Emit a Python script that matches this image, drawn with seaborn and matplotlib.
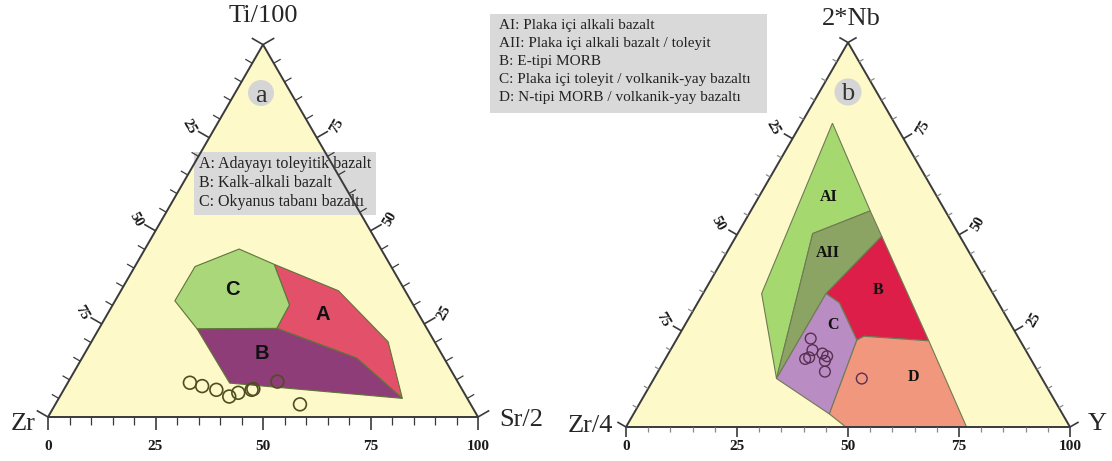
import numpy as np
import seaborn as sns
import matplotlib.pyplot as plt
import matplotlib.transforms as mtransforms
from matplotlib.patches import Polygon, Circle, Rectangle

# ---------------- diagram a : Ti/100 - Zr - Sr/2, rows = (Zr, Ti, Sr) % ----------------
a_field_A = [(26.9, 41.0, 32.1), (15.5, 33.9, 50.6), (10.8, 20.2, 69.0), (15.1, 5.0, 79.9),
             (20.3, 15.8, 63.9), (34.9, 23.8, 41.3), (28.8, 30.1, 41.1)]
a_field_B = [(53.5, 23.7, 22.8), (34.9, 23.8, 41.3), (20.3, 15.8, 63.9), (15.1, 5.0, 79.9),
             (53.2, 9.1, 37.7)]
a_field_C = [(33.0, 45.1, 21.9), (26.9, 41.0, 32.1), (28.8, 30.1, 41.1), (34.9, 23.8, 41.3),
             (53.5, 23.7, 22.8), (54.9, 31.2, 13.9), (45.6, 40.4, 14.0)]
a_field_names = ["A", "B", "C"]
a_name_pos = [(22.3, 27.4, 50.3), (41.8, 17.1, 41.1), (40.0, 34.3, 25.7)]
a_samples = [(62.4, 9.2, 28.4), (60.0, 8.3, 31.7), (57.2, 7.3, 35.5), (55.1, 5.5, 39.4),
             (52.5, 6.5, 41.0), (49.0, 7.3, 43.7), (48.5, 7.5, 44.0), (41.9, 9.5, 48.6),
             (39.7, 3.4, 56.9)]
a_corners = ["Zr", "Ti/100", "Sr/2"]
a_legend = ["A: Adayayı toleyitik bazalt", "B: Kalk-alkali bazalt", "C: Okyanus tabanı bazaltı"]

# ---------------- diagram b : 2*Nb - Zr/4 - Y, rows = (Zr/4, 2Nb, Y) % ----------------
b_field_AI = [(14.0, 79.0, 7.0), (16.9, 56.2, 26.9), (32.8, 50.3, 16.9), (59.8, 12.6, 27.6),
              (52.1, 34.7, 13.2)]
b_field_AII = [(16.9, 56.2, 26.9), (17.6, 49.6, 32.8), (37.6, 34.7, 27.7), (59.8, 12.6, 27.6),
               (32.8, 50.3, 16.9)]
b_field_B = [(17.6, 49.6, 32.8), (20.6, 22.4, 57.0), (34.6, 23.6, 41.8), (36.7, 22.6, 40.7),
             (35.8, 32.3, 31.9), (37.6, 34.7, 27.7)]
b_field_C = [(37.6, 34.7, 27.7), (35.8, 32.3, 31.9), (36.7, 22.6, 40.7), (52.5, 3.4, 44.1),
             (59.8, 12.6, 27.6)]
b_field_D = [(36.7, 22.6, 40.7), (34.6, 23.6, 41.8), (20.6, 22.4, 57.0), (23.3, 0.0, 76.7),
             (50.5, 0.0, 49.5), (52.5, 3.4, 44.1)]
b_field_names = ["AI", "AII", "B", "C", "D"]
b_name_pos = [(24.6, 59.7, 15.7), (32.0, 45.3, 22.7), (25.4, 35.6, 39.0), (40.1, 26.5, 33.4),
              (28.8, 12.9, 58.3)]
b_samples = [(46.9, 23.0, 30.1), (48.0, 20.0, 32.0), (50.8, 17.7, 31.5), (49.7, 18.1, 32.2),
             (46.2, 19.1, 34.7), (45.5, 18.4, 36.1), (46.6, 17.2, 36.2), (48.0, 14.4, 37.6),
             (40.6, 12.6, 46.8)]
b_corners = ["Zr/4", "2*Nb", "Y"]
b_legend = ["AI: Plaka içi alkali bazalt", "AII: Plaka içi alkali bazalt / toleyit",
            "B: E-tipi MORB", "C: Plaka içi toleyit / volkanik-yay bazaltı",
            "D: N-tipi MORB / volkanik-yay bazaltı"]

W, H = 1112, 461
SQ = np.sqrt(3) / 2
YELLOW = "#fdf9c8"
EDGE = "#3a3a3a"
SERIF = ["Liberation Serif", "DejaVu Serif"]


def tern_xy(rows):
    """(left, top, right) compositions -> cartesian, base 0..100."""
    arr = np.asarray(rows, dtype=float)
    arr = arr / arr.sum(axis=1, keepdims=True) * 100
    top, right = arr[:, 1], arr[:, 2]
    return right + top / 2, top * SQ


def setup_axes(ax, ox, oy, scale, px0, px1):
    # ox, oy: pixel of the left base corner; scale: pixels per unit
    ax.set_xlim((px0 - ox) / scale, (px1 - ox) / scale)
    ax.set_ylim((oy - H) / scale, oy / scale)
    ax.axis("off")


def draw_frame(ax, scale, major_px, minor_px, tick_col, lab_off_bottom, lab_off_side):
    L, R, T = np.array([0.0, 0.0]), np.array([100.0, 0.0]), np.array([50.0, 100 * SQ])
    ax.add_patch(Polygon([L, R, T], closed=True, fc=YELLOW, ec="none", zorder=0))
    ax.add_patch(Polygon([L, R, T], closed=True, fill=False, ec=EDGE, lw=1.4, zorder=6))
    sides = [(L, R, np.array([0.0, -1.0]), 0),
             (T, L, np.array([-SQ, 0.5]), -60),
             (R, T, np.array([SQ, 0.5]), 60)]
    for k, (p0, p1, nrm, rot) in enumerate(sides):
        for v in range(0, 101, 5):
            pos = p0 + (p1 - p0) * v / 100
            major = v % 25 == 0
            ln = (major_px if major else minor_px) / scale
            ax.plot([pos[0], pos[0] + nrm[0] * ln], [pos[1], pos[1] + nrm[1] * ln],
                    color=EDGE if major else tick_col, lw=1.2 if major else 0.9,
                    zorder=6, solid_capstyle="butt")
            if not major:
                continue
            if k == 0:
                ax.text(pos[0], pos[1] - lab_off_bottom / scale, str(v), ha="center",
                        va="center", fontsize=11, fontweight="bold", family=SERIF,
                        color="#1a1a1a")
            elif 0 < v < 100:
                lp = pos + nrm * lab_off_side / scale
                ax.text(lp[0], lp[1], str(v), ha="center", va="center", rotation=rot,
                        fontsize=10.5, fontweight="bold", family=SERIF, color="#1a1a1a")


sns.set_theme(style="white")
plt.rcParams["font.family"] = ["Liberation Serif", "DejaVu Serif"]

fig = plt.figure(figsize=(W / 100, H / 100), dpi=100)
ax_a = fig.add_axes([0, 0, 556 / W, 1])
ax_b = fig.add_axes([556 / W, 0, 556 / W, 1])
pix = mtransforms.Affine2D().scale(1 / W, -1 / H).translate(0, 1) + fig.transFigure

# ---------------- diagram a ----------------
setup_axes(ax_a, 48, 417, 4.3, 0, 556)
draw_frame(ax_a, 4.3, 13, 8, EDGE, 29, 23)
a_cols = ["#e2506a", "#8e3d78", "#a9d77a"]
for rows, col in zip([a_field_A, a_field_B, a_field_C], a_cols):
    x, y = tern_xy(rows)
    ax_a.add_patch(Polygon(np.column_stack([x, y]), closed=True, fc=col, ec="#5f7538",
                           lw=0.8, zorder=2))
for name, p in zip(a_field_names, a_name_pos):
    x, y = tern_xy([p])
    ax_a.text(x[0], y[0], name, ha="center", va="center", fontsize=14.5, fontweight="bold",
              family=["Liberation Sans", "DejaVu Sans"], color="#111111", zorder=3)
x, y = tern_xy(a_samples)
sns.scatterplot(x=x, y=y, ax=ax_a, s=85, marker="o", linewidth=1.2, zorder=5, legend=False)
ax_a.collections[-1].set_facecolor("none")
ax_a.collections[-1].set_edgecolor("#4f4d22")

ax_a.text(36, 424, a_corners[0], transform=pix, ha="right", va="center", fontsize=19)
ax_a.text(263, 16, a_corners[1], transform=pix, ha="center", va="center", fontsize=19)
ax_a.text(499, 420, a_corners[2], transform=pix, ha="left", va="center", fontsize=19)
ax_a.add_patch(Circle((261, 93), 13, transform=pix, fc="#d5d5d5", ec="none", zorder=3))
ax_a.text(261, 93, "a", transform=pix, ha="center", va="center_baseline", fontsize=19,
          color="#333333", zorder=4)
ax_a.add_patch(Rectangle((194, 152), 182, 63, transform=pix, fc="#d9d9d9", ec="none", zorder=3))
for i, line in enumerate(a_legend):
    ax_a.text(199, 164 + 19 * i, line, transform=pix, ha="left", va="center",
              fontsize=11.5, color="#222222", zorder=4)

# ---------------- diagram b ----------------
setup_axes(ax_b, 626, 427, 4.44, 556, 1112)
draw_frame(ax_b, 4.44, 10, 5, "#8a8a8a", 19, 22)
b_cols = ["#a6d870", "#8ca463", "#dc1e48", "#b98cc3", "#f0977e"]
for rows, col in zip([b_field_AI, b_field_AII, b_field_B, b_field_C, b_field_D], b_cols):
    x, y = tern_xy(rows)
    ax_b.add_patch(Polygon(np.column_stack([x, y]), closed=True, fc=col, ec="#6f7a55",
                           lw=0.8, zorder=2))
for name, p in zip(b_field_names, b_name_pos):
    x, y = tern_xy([p])
    ax_b.text(x[0], y[0], name, ha="center", va="center", fontsize=11.5, fontweight="bold",
              color="#111111", zorder=3)
x, y = tern_xy(b_samples)
sns.scatterplot(x=x, y=y, ax=ax_b, s=60, marker="o", linewidth=1.0, zorder=5, legend=False)
ax_b.collections[-1].set_facecolor("none")
ax_b.collections[-1].set_edgecolor("#5a2f52")

ax_b.text(613, 426, b_corners[0], transform=pix, ha="right", va="center", fontsize=19)
ax_b.text(851, 19, b_corners[1], transform=pix, ha="center", va="center", fontsize=19)
ax_b.text(1088, 424, b_corners[2], transform=pix, ha="left", va="center", fontsize=19)
ax_b.add_patch(Circle((848, 92), 13.5, transform=pix, fc="#d5d5d5", ec="none", zorder=3))
ax_b.text(848, 92, "b", transform=pix, ha="center", va="center_baseline", fontsize=19,
          color="#333333", zorder=4)
ax_b.add_patch(Rectangle((490, 14), 277, 99, transform=pix, fc="#d9d9d9", ec="none",
                         zorder=3, clip_on=False))
for i, line in enumerate(b_legend):
    ax_b.text(499, 25 + 18.1 * i, line, transform=pix, ha="left", va="center",
              fontsize=11, color="#222222", zorder=4, clip_on=False)

fig.savefig("out.png", dpi=100, facecolor="white")
